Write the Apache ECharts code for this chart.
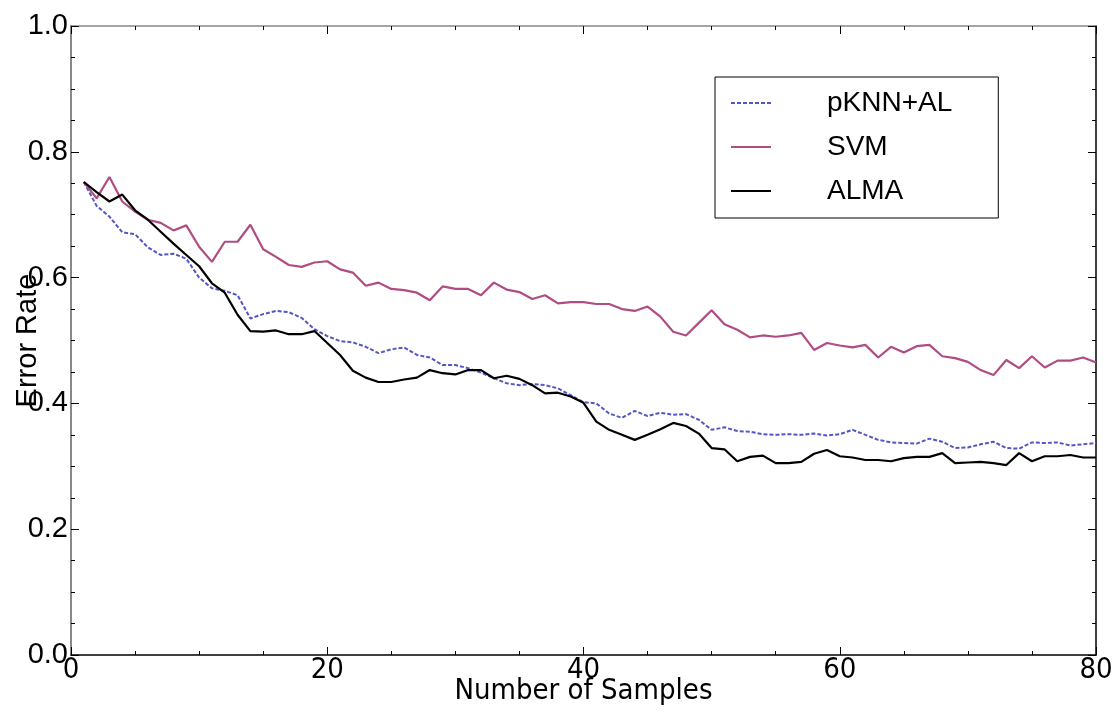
<!DOCTYPE html>
<html>
<head>
<meta charset="utf-8">
<script src="https://cdn.jsdelivr.net/npm/echarts@6/dist/echarts.min.js"></script>
<style>
  html, body { margin: 0; padding: 0; background: #fff; }
  #chart { width: 1115px; height: 713px; }
</style>
</head>
<body>
<div id="chart"></div>
<script>
// error rate per number of samples (x = 1..80)
var pknnAL = [0.752, 0.714, 0.697, 0.672, 0.669, 0.648, 0.636, 0.638, 0.630, 0.600,
              0.583, 0.579, 0.572, 0.535, 0.542, 0.547, 0.545, 0.536, 0.518, 0.507,
              0.499, 0.497, 0.490, 0.480, 0.486, 0.489, 0.477, 0.473, 0.461, 0.461,
              0.456, 0.449, 0.440, 0.432, 0.429, 0.431, 0.429, 0.424, 0.413, 0.402,
              0.400, 0.384, 0.377, 0.388, 0.380, 0.385, 0.382, 0.383, 0.374, 0.358,
              0.362, 0.356, 0.355, 0.351, 0.350, 0.351, 0.350, 0.352, 0.349, 0.351,
              0.358, 0.350, 0.342, 0.338, 0.337, 0.336, 0.344, 0.339, 0.329, 0.330,
              0.335, 0.339, 0.329, 0.328, 0.338, 0.337, 0.338, 0.333, 0.335, 0.337];

var svm = [0.752, 0.726, 0.760, 0.721, 0.705, 0.692, 0.687, 0.675, 0.683, 0.649,
           0.625, 0.657, 0.657, 0.684, 0.645, 0.633, 0.620, 0.617, 0.624, 0.626,
           0.613, 0.608, 0.587, 0.592, 0.582, 0.580, 0.576, 0.564, 0.586, 0.582,
           0.582, 0.572, 0.592, 0.581, 0.577, 0.566, 0.572, 0.559, 0.561, 0.561,
           0.558, 0.558, 0.550, 0.547, 0.554, 0.538, 0.514, 0.508, 0.528, 0.548,
           0.526, 0.517, 0.505, 0.508, 0.506, 0.508, 0.512, 0.485, 0.496, 0.492,
           0.489, 0.493, 0.473, 0.490, 0.481, 0.491, 0.493, 0.475, 0.472, 0.466,
           0.453, 0.445, 0.469, 0.456, 0.475, 0.457, 0.468, 0.468, 0.473, 0.465];

var alma = [0.752, 0.736, 0.721, 0.732, 0.707, 0.692, 0.673, 0.654, 0.636, 0.618,
            0.591, 0.576, 0.541, 0.515, 0.514, 0.516, 0.510, 0.510, 0.515, 0.496,
            0.477, 0.452, 0.441, 0.434, 0.434, 0.438, 0.441, 0.453, 0.448, 0.446,
            0.453, 0.453, 0.440, 0.444, 0.439, 0.429, 0.416, 0.417, 0.411, 0.401,
            0.371, 0.358, 0.350, 0.342, 0.350, 0.359, 0.369, 0.364, 0.352, 0.329,
            0.327, 0.308, 0.315, 0.317, 0.305, 0.305, 0.307, 0.320, 0.326, 0.316,
            0.314, 0.310, 0.310, 0.308, 0.313, 0.315, 0.315, 0.321, 0.305, 0.306,
            0.307, 0.305, 0.302, 0.321, 0.308, 0.316, 0.316, 0.318, 0.314, 0.314];

var seriesNames = ['pKNN+AL', 'SVM', 'ALMA'];

function toPairs(arr) {
    return arr.map(function (v, i) { return [i + 1, v]; });
}

var font = "Liberation Sans";
// the x axis text in the original is a condensed face
var narrowFont = "'DejaVu Sans Condensed', 'Liberation Sans'";

var chart = echarts.init(document.getElementById('chart'));

var frameAxis = {
    axisLine: { show: true, onZero: false, lineStyle: { color: '#000', width: 1.5 } },
    axisTick: { show: true, inside: true, length: 8, lineStyle: { color: '#000' } },
    minorTick: { show: true, splitNumber: 4, length: 4, lineStyle: { color: '#000' } },
    splitLine: { show: false },
    minorSplitLine: { show: false }
};

var option = {
    backgroundColor: '#fff',
    animation: false,
    grid: { left: 71, right: 19, top: 26, bottom: 58, outerBoundsMode: 'none', containLabel: false },
    legend: {
        orient: 'vertical',
        left: 715,
        top: 77,
        padding: [11, 46, 12, 15],
        itemWidth: 40,
        itemHeight: 16,
        itemGap: 14,
        borderColor: '#000',
        borderWidth: 1,
        data: seriesNames,
        itemStyle: { color: 'transparent', borderColor: 'transparent', borderWidth: 0 },
        textStyle: { fontFamily: font, fontSize: 28, lineHeight: 30, color: '#000', padding: [0, 0, 0, 51] }
    },
    xAxis: [
        Object.assign({}, frameAxis, {
            type: 'value', min: 0, max: 80, interval: 20, position: 'bottom',
            name: 'Number of Samples', nameLocation: 'middle', nameGap: 22, nameMoveOverlap: false,
            nameTextStyle: { fontFamily: narrowFont, fontSize: 29, color: '#000' },
            axisLabel: { fontFamily: narrowFont, fontSize: 29, color: '#000', margin: 1 }
        }),
        Object.assign({}, frameAxis, {
            type: 'value', min: 0, max: 80, interval: 20, position: 'top',
            axisLine: { show: true, onZero: false, lineStyle: { color: '#888', width: 1.5 } },
            axisLabel: { show: false }
        })
    ],
    yAxis: [
        Object.assign({}, frameAxis, {
            type: 'value', min: 0, max: 1, interval: 0.2, position: 'left',
            axisLine: { show: true, onZero: false, lineStyle: { color: '#888', width: 2 } },
            name: 'Error Rate', nameLocation: 'middle', nameGap: 29, nameMoveOverlap: false,
            nameTextStyle: { fontFamily: font, fontSize: 29, color: '#000' },
            axisLabel: {
                fontFamily: font, fontSize: 29, color: '#000', margin: 3,
                formatter: function (v) { return v.toFixed(1); }
            }
        }),
        Object.assign({}, frameAxis, {
            type: 'value', min: 0, max: 1, interval: 0.2, position: 'right',
            axisLabel: { show: false }
        })
    ],
    series: [
        {
            name: 'pKNN+AL', type: 'line', symbol: 'none',
            lineStyle: { color: '#5257c4', width: 2, type: [4, 2] },
            itemStyle: { color: '#5257c4' },
            data: toPairs(pknnAL)
        },
        {
            name: 'SVM', type: 'line', symbol: 'none',
            lineStyle: { color: '#b04c82', width: 2.2 },
            itemStyle: { color: '#b04c82' },
            data: toPairs(svm)
        },
        {
            name: 'ALMA', type: 'line', symbol: 'none',
            lineStyle: { color: '#000', width: 2.2 },
            itemStyle: { color: '#000' },
            data: toPairs(alma)
        }
    ]
};

chart.setOption(option);
</script>
</body>
</html>
